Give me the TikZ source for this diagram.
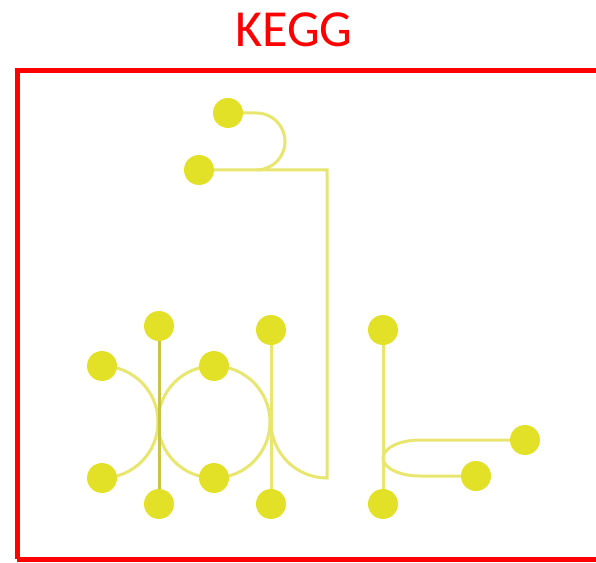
\documentclass[tikz,border=0pt]{standalone}
\usepackage{fontspec}
\newfontfamily\keggfont{Carlito}
\usetikzlibrary{backgrounds}
\definecolor{nodefill}{RGB}{226,225,40}
\definecolor{linecol}{RGB}{232,230,110}
\definecolor{darkline}{RGB}{200,196,70}
\definecolor{boxred}{RGB}{255,0,0}
\tikzset{
  dot/.style={circle,fill=nodefill,minimum size=30pt,inner sep=0pt},
  link/.style={draw=linecol,line width=3pt},
  darklink/.style={draw=darkline,line width=3pt},
}
\begin{document}
\begin{tikzpicture}[x=1pt,y=1pt]
\useasboundingbox (0,0) rectangle (596,562);
\draw[boxred,line width=5pt] (17,3) -- (17,491) -- (610,491);
\draw[boxred,line width=5pt] (17,3) -- (610,3);
\node[text=boxred,font=\keggfont\fontsize{52}{52}\selectfont,anchor=base] (title) at (294,515) {KEGG};
% nodes
\node[dot] (A) at (228,449) {};
\node[dot] (B) at (199,392) {};
\node[dot] (C) at (159,236) {};
\node[dot] (D) at (159,58) {};
\node[dot] (E) at (102,196) {};
\node[dot] (F) at (102,84) {};
\node[dot] (G) at (214,196) {};
\node[dot] (H) at (214,84) {};
\node[dot] (I) at (271,232) {};
\node[dot] (J) at (271,58) {};
\node[dot] (K) at (383,232) {};
\node[dot] (L) at (383,58) {};
\node[dot] (M) at (525,122) {};
\node[dot] (N) at (476,86) {};
\coordinate (topturn) at (256.5,449);
\coordinate (c1) at (327,392);
\coordinate (c2) at (327,84);
\coordinate (m1) at (420,122);
\begin{scope}[on background layer]
\path[link] (A.center) -- (topturn) arc[start angle=90,end angle=-90,radius=28.5];
\path[link] (B.center) -- (c1) -- (c2) arc[start angle=270,end angle=180,radius=56];
\path[link] (E.center) arc[start angle=90,end angle=-90,radius=56];
\path[link] (G.center) arc[start angle=90,end angle=270,radius=56];
\path[link] (G.center) arc[start angle=90,end angle=-90,radius=56];
\path[darklink] (C.center) -- (D.center);
\path[link] (I.center) -- (J.center);
\path[link] (K.center) -- (L.center);
\path[link] (M.center) -- (m1) arc[start angle=90,end angle=270,x radius=37,y radius=18] -- (N.center);
\end{scope}
\end{tikzpicture}
\end{document}
